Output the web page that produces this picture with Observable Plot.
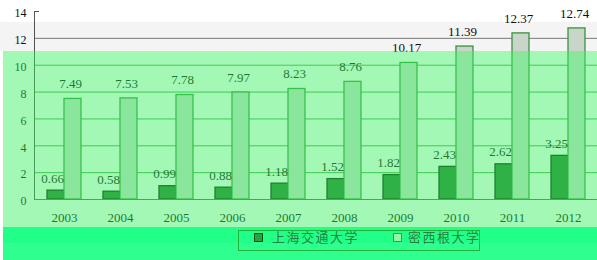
<!DOCTYPE html>
<html>
<head>
<meta charset="utf-8">
<script src="https://cdn.jsdelivr.net/npm/d3@7"></script>
<script src="https://cdn.jsdelivr.net/npm/@observablehq/plot@0.6"></script>
<style>
  body { margin: 0; background: #fff; }
  #wrap { position: relative; width: 597px; height: 260px; overflow: hidden; background: #fff; font-family: "Liberation Serif", serif; }
  #chart svg { display: block; }
  .ov { position: absolute; pointer-events: none; }
  #ovGray { left: 0; top: 22px; width: 597px; height: 29px; background: rgba(0,0,0,0.045); }
  #ovGreen { left: 3px; top: 51px; width: 594px; height: 176px; background: rgba(50,240,90,0.45); }
  #legend { position: absolute; left: 3px; top: 227px; width: 594px; height: 33px;
    background: linear-gradient(to bottom, #22ff88 0px, #22ff88 16px, #2eff8f 16px, #2eff8f 33px); }
  #legend .box { position: absolute; left: 235px; top: 3px; width: 240px; height: 19px; border: 1.5px solid #1fb43a; }
  #legend .sw { position: absolute; width: 7px; height: 7px; top: 6px; }
  #legend .lab { position: absolute; top: 1px; font-family: "Noto Sans CJK SC", sans-serif; font-size: 13px; line-height: 17px; letter-spacing: 1.5px; color: #2b8040; white-space: nowrap; }
</style>
</head>
<body>
<div id="wrap">
  <div id="chart"></div>
  <div id="legend"></div>
  <div class="ov" id="ovGray"></div>
  <div class="ov" id="ovGreen"></div>
</div>
<script>
const years = ["2003", "2004", "2005", "2006", "2007", "2008", "2009", "2010", "2011", "2012"];
const sjtuValues = [0.66, 0.58, 0.99, 0.88, 1.18, 1.52, 1.82, 2.43, 2.62, 3.25];
const umichValues = [7.49, 7.53, 7.78, 7.97, 8.23, 8.76, 10.17, 11.39, 12.37, 12.74];
const seriesNames = ["上海交通大学", "密西根大学"];
const yTicks = [0, 2, 4, 6, 8, 10, 12, 14];

const sjtu = years.map((y, i) => ({year: y, school: seriesNames[0], value: sjtuValues[i]}));
const umich = years.map((y, i) => ({year: y, school: seriesNames[1], value: umichValues[i]}));

const chart = Plot.plot({
  width: 597,
  height: 227,
  marginLeft: 34,
  marginRight: 0,
  marginTop: 11,
  marginBottom: 28,
  style: {background: "transparent", fontFamily: "Liberation Serif, serif", color: "#111", fontSize: "13px"},
  x: {type: "band", domain: years, paddingInner: 0.4, paddingOuter: 0.2},
  y: {domain: [0, 14]},
  marks: [
    Plot.gridY(yTicks.filter(t => t > 0 && t < 12), {stroke: "#45b049", strokeOpacity: 1}),
    Plot.gridY(yTicks.filter(t => t === 12), {stroke: "#808080", strokeOpacity: 1}),
    Plot.barY(sjtu, {x: "year", y: "value", fill: "#2f7f33", stroke: "#0a2a0a", strokeWidth: 1.3, insetRight: 17}),
    Plot.barY(umich, {x: "year", y: "value", fill: "#d4dfd4", stroke: "#3a9a40", strokeWidth: 1.3, insetLeft: 17}),
    Plot.ruleY([0], {stroke: "#2a8a35"}),
    Plot.frame({anchor: "left", stroke: "#555"}),
    Plot.text(sjtu, {x: "year", y: "value", text: d => d.value.toFixed(2), dx: -12, dy: -12, fontSize: 13, fill: "#111"}),
    Plot.text(umich, {x: "year", y: "value", text: d => d.value.toFixed(2), dx: 6, dy: -15, fontSize: 13, fill: "#111"}),
    Plot.axisY(yTicks, {tickSize: 0, tickPadding: 8, fontSize: 12, dy: 2, label: null}),
    Plot.axisY(yTicks.filter(t => t === 14), {tickSize: 5, dx: 5, stroke: "#555", tickFormat: () => "", label: null}),
    Plot.axisX({tickSize: 0, tickPadding: 13, fontSize: 13, label: null})
  ]
});
document.getElementById("chart").appendChild(chart);

const legend = document.getElementById("legend");
const box = document.createElement("div");
box.className = "box";
legend.appendChild(box);
const legendItems = [
  {name: seriesNames[0], fill: "#2f9f45", stroke: "#0d4d1a", swLeft: 251, labLeft: 269},
  {name: seriesNames[1], fill: "#96f5a5", stroke: "#20b035", swLeft: 390, labLeft: 405}
];
for (const it of legendItems) {
  const sw = document.createElement("div");
  sw.className = "sw";
  sw.style.left = it.swLeft + "px";
  sw.style.background = it.fill;
  sw.style.border = "1.5px solid " + it.stroke;
  legend.appendChild(sw);
  const lab = document.createElement("div");
  lab.className = "lab";
  lab.style.left = it.labLeft + "px";
  lab.textContent = it.name;
  legend.appendChild(lab);
}
</script>
</body>
</html>
